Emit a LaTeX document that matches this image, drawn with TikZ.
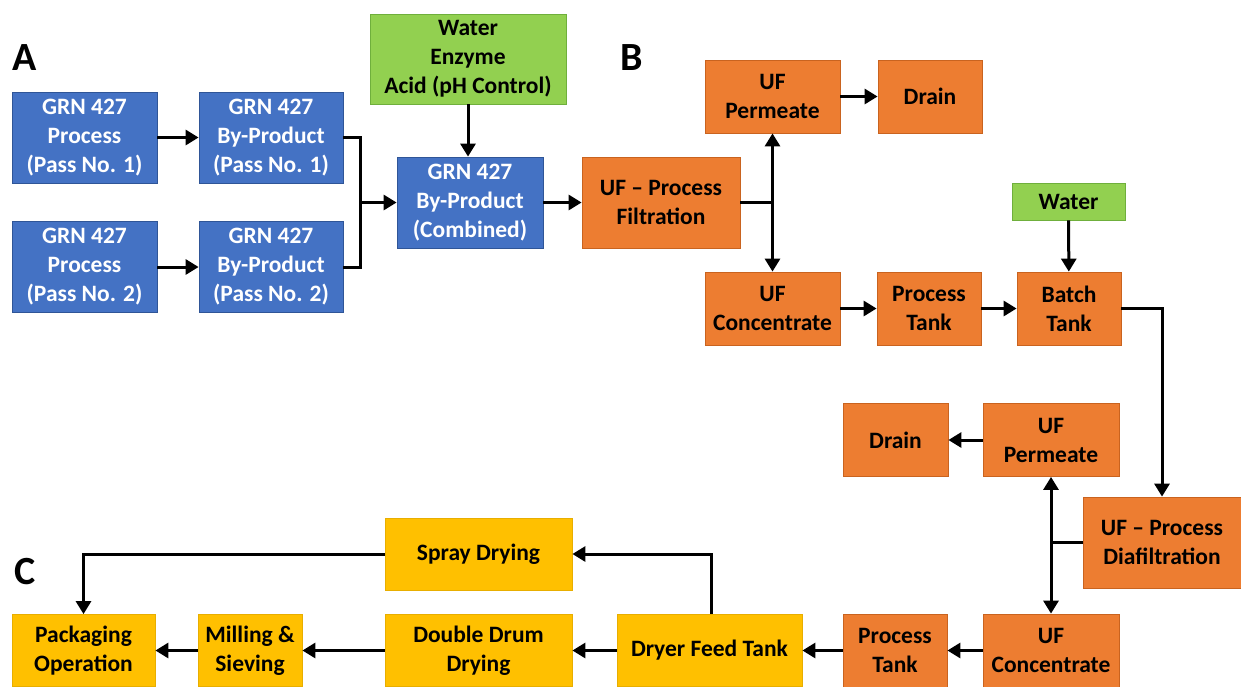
\documentclass[tikz,border=0pt]{standalone}
\usepackage{fontspec}
\setmainfont{Carlito}
\usetikzlibrary{arrows.meta}

\begin{document}
\begin{tikzpicture}[x=1pt,y=-1pt,>={Triangle[length=13pt,width=15pt]},
	box/.style={draw,line width=0.8pt,align=center,inner sep=0pt,font=\bfseries\fontsize{23.5}{29}\selectfont},
	bluebox/.style={box,fill=grnblue,draw=grnblueline,text=white,minimum height=91pt},
	greenbox/.style={box,fill=addgreen,draw=addgreenline},
	orangebox/.style={box,fill=ufgreen,draw=ufgreenline,minimum height=73pt},
	yellowbox/.style={box,fill=dryyellow,draw=dryyellowline,minimum height=72pt},
	flow/.style={line width=3pt},
	panel/.style={font=\bfseries\fontsize{40}{40}\selectfont}]
					\definecolor{grnblue}{HTML}{4472C4}
					\definecolor{grnblueline}{HTML}{2F5597}
					\definecolor{addgreen}{HTML}{92D050}
					\definecolor{addgreenline}{HTML}{6FAF3C}
					\definecolor{ufgreen}{HTML}{ED7D31}
					\definecolor{ufgreenline}{HTML}{C9631F}
					\definecolor{dryyellow}{HTML}{FFC000}
					\definecolor{dryyellowline}{HTML}{E8AE00}
					\useasboundingbox (0,0) rectangle (1241,686);

					% labels
					\node[panel] (labA) at (25,58) {A};
					\node[panel] (labB) at (632,58) {B};
					\node[panel] (labC) at (25,572) {C};

					% A: by-product
					\node[bluebox,minimum width=145pt] (p1) at (84.5,137.5) {GRN 427\\Process\\(Pass No. 1)};
					\node[bluebox,minimum width=144pt] (bp1) at (271,137.5) {GRN 427\\By-Product\\(Pass No. 1)};
					\node[bluebox,minimum width=145pt] (p2) at (84.5,267) {GRN 427\\Process\\(Pass No. 2)};
					\node[bluebox,minimum width=144pt] (bp2) at (271,267) {GRN 427\\By-Product\\(Pass No. 2)};
					\node[bluebox,minimum width=146pt] (comb) at (470,202.5) {GRN 427\\By-Product\\(Combined)};
					\node[greenbox,minimum width=196pt,minimum height=90pt] (add) at (468,59) {Water\\Enzyme\\Acid (pH Control)};
					\coordinate (join) at (360,202.5);

					\draw[flow,->] (p1) -- (bp1);
					\draw[flow,->] (p2) -- (bp2);
					\draw[flow] (bp1.east) -| (join);
					\draw[flow] (bp2.east) -| (join);
					\draw[flow,->] (join) -- (comb.west);
					\draw[flow,->] (add.south) -- (add.south |- comb.north);

					% B: ultrafiltration
					\node[orangebox,minimum width=158pt,minimum height=91pt] (filt) at (661,202.5) {UF -- Process\\Filtration};
					\node[orangebox,minimum width=135pt] (perm1) at (772.5,96.5) {UF\\Permeate};
					\node[orangebox,minimum width=104pt] (drain1) at (930,96.5) {Drain};
					\node[orangebox,minimum width=135pt] (conc1) at (772.5,308.5) {UF\\Concentrate};
					\node[orangebox,minimum width=104pt] (tank1) at (929,308.5) {Process\\Tank};
					\node[orangebox,minimum width=104pt] (batch) at (1069,308.5) {Batch\\Tank};
					\node[greenbox,minimum width=113pt,minimum height=37pt] (water) at (1068.5,201.5) {Water};
					\node[orangebox,minimum width=158pt,minimum height=91pt] (diaf) at (1162,542.5) {UF -- Process\\Diafiltration};
					\node[orangebox,minimum width=136pt] (perm2) at (1051,440) {UF\\Permeate};
					\node[orangebox,minimum width=105pt] (drain2) at (895.5,440) {Drain};
					\node[orangebox,minimum width=136pt] (conc2) at (1051,650.5) {UF\\Concentrate};
					\node[orangebox,minimum width=104pt] (tank2) at (895,650.5) {Process\\Tank};

					\draw[flow,->] (comb) -- (filt);
					\draw[flow] (filt.east) -- (perm1.south |- filt.east);
					\draw[flow,<->] (perm1.south) -- (conc1.north);
					\draw[flow,->] (perm1) -- (drain1);
					\draw[flow,->] (conc1) -- (tank1);
					\draw[flow,->] (tank1) -- (batch);
					\draw[flow,->] (water) -- (batch);
					\draw[flow,->] (batch.east) -| (diaf.north);
					\draw[flow] (diaf.west) -- (perm2.south |- diaf.west);
					\draw[flow,<->] (perm2.south) -- (conc2.north);
					\draw[flow,->] (perm2) -- (drain2);
					\draw[flow,->] (conc2) -- (tank2);

					% C: drying
					\node[yellowbox,minimum width=185pt] (feed) at (709.5,650.5) {Dryer Feed Tank};
					\node[yellowbox,minimum width=187pt] (drum) at (478.5,650.5) {Double Drum\\Drying};
					\node[yellowbox,minimum width=104pt] (mill) at (250,650.5) {Milling \&\\Sieving};
					\node[yellowbox,minimum width=143pt] (pack) at (83.5,650.5) {Packaging\\Operation};
					\node[yellowbox,minimum width=187pt] (spray) at (478.5,554) {Spray Drying};

					\draw[flow,->] (tank2) -- (feed);
					\draw[flow,->] (feed) -- (drum);
					\draw[flow,->] (drum) -- (mill);
					\draw[flow,->] (mill) -- (pack);
					\draw[flow,->] ([xshift=1.5pt]feed.north) |- (spray.east);
					\draw[flow,->] (spray.west) -| (pack.north);
				\end{tikzpicture}
\end{document}
